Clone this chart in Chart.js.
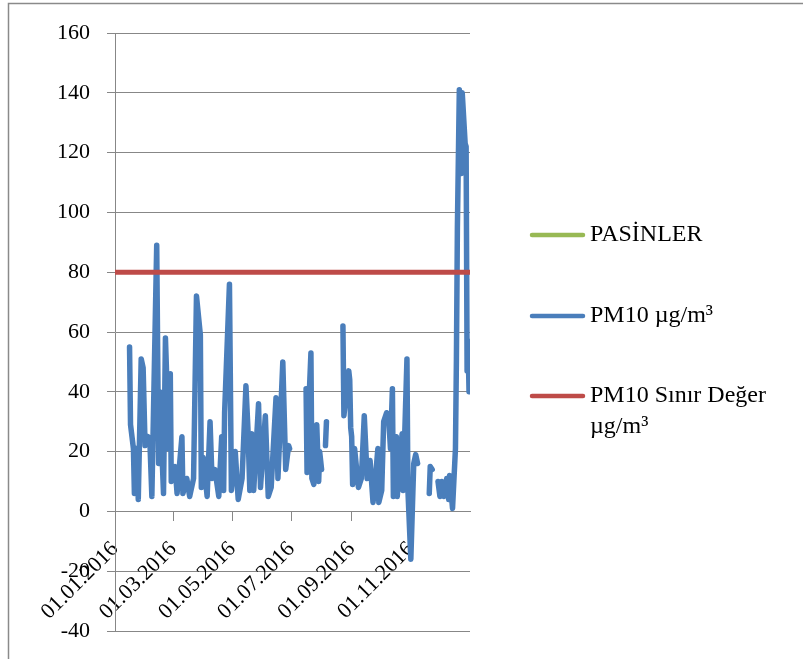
<!DOCTYPE html>
<html>
<head>
<meta charset="utf-8">
<script src="https://cdn.jsdelivr.net/npm/chart.js@4"></script>
<style>
html,body{margin:0;padding:0;background:#ffffff;}
#wrap{width:803px;height:659px;position:relative;}
</style>
</head>
<body>
<div id="wrap"><canvas id="c" width="803" height="659"></canvas></div>
<script>
// ---- data ----
const seriesNames = ['PASİNLER', 'PM10 µg/m³', 'PM10 Sınır Değer µg/m³'];
const tickDays = [0, 60, 121, 182, 244, 305];
const tickLabels = ['01.01.2016', '01.03.2016', '01.05.2016', '01.07.2016', '01.09.2016', '01.11.2016'];
const daysInYear = 366;
const limitValue = 80;
// day of year (0 = 01.01.2016); null values mark missing measurements
const days = [
  15,16,19,20,22,24,27,29,31,34,36,38,43,45,46,48,50,52,53,55,57,58,62,64,69,70,74,77,81,84,88,89,91,
  95,98,100,103,107,110,112,113,118,120,124,127,131,135,137,139,141,143,148,150,155,158,161,166,168,173,176,179,180,
  188,
  197,198,199,202,203,205,208,210,211,213,
  215,
  217,218,
  225,
  235,236,241,242,243,244,245,247,251,254,257,260,263,266,268,271,272,275,277,280,282,284,286,287,290,291,296,297,301,302,305,308,310,312,
  318,
  324,325,327,
  330,
  333,335,337,339,342,344,345,348,351,352,353,355,357,358,361,362,363,364,365
];
const pm10 = [
  55,29,21,6,21,4,51,48,22,25,23,5,89,16,40,23,6,58,48,21,46,10,15,6,25,6,11,5,11,72,59,8,18,
  5,30,11,14,5,25,7,33,76,7,20,4,11,42,28,7,26,7,36,8,32,5,8,38,11,50,14,22,21,
  null,
  41,13,29,53,11,9,29,10,20,14,
  null,
  22,30,
  null,
  62,32,47,44,28,25,9,21,8,11,32,11,17,3,9,21,3,7,30,33,32,21,41,5,25,5,26,7,51,7,-16,16,19,16,
  null,
  6,15,14,
  null,
  10,5,10,5,11,4,12,1,21,51,95,141,113,140,123,122,47,57,40
];
const yMin = -40, yMax = 160, yStep = 20;

// ---- styles ----
const gridColor = '#878787';
const colors = ['#98B954', '#4A7EBB', '#BE4B48'];
const tickFont = { family: '"Liberation Serif", "Times New Roman", serif', size: 22 };
const legendFontPx = 24;

const framePlugin = {
  id: 'frame',
  afterDraw(chart) {
    const ctx = chart.ctx;
    ctx.save();
    ctx.strokeStyle = '#8a8a8a';
    ctx.lineWidth = 1.5;
    ctx.beginPath();
    ctx.moveTo(8.5, 659);
    ctx.lineTo(8.5, 3.5);
    ctx.lineTo(803, 3.5);
    ctx.stroke();
    ctx.restore();
  }
};

const legendPlugin = {
  id: 'customLegend',
  afterDraw(chart) {
    const ctx = chart.ctx;
    const x0 = 532, x1 = 583, textX = 590, maxW = 205;
    const ys = [235, 316, 396];
    const lineH = 31;
    ctx.save();
    ctx.font = legendFontPx + 'px "Liberation Serif", "Times New Roman", serif';
    ctx.textBaseline = 'middle';
    ctx.fillStyle = '#000';
    chart.data.datasets.forEach((ds, i) => {
      const y = ys[i];
      ctx.strokeStyle = ds.borderColor;
      ctx.lineWidth = 4.5;
      ctx.lineCap = 'round';
      ctx.beginPath();
      ctx.moveTo(x0, y);
      ctx.lineTo(x1, y);
      ctx.stroke();
      const words = ds.label.split(' ');
      const lines = [];
      let cur = '';
      words.forEach(w => {
        const t = cur ? cur + ' ' + w : w;
        if (ctx.measureText(t).width > maxW && cur) { lines.push(cur); cur = w; }
        else cur = t;
      });
      if (cur) lines.push(cur);
      lines.forEach((ln, k) => ctx.fillText(ln, textX, y + k * lineH));
    });
    ctx.restore();
  }
};

new Chart(document.getElementById('c'), {
  type: 'line',
  data: {
    datasets: [
      { label: seriesNames[0], data: [], borderColor: colors[0], backgroundColor: colors[0], order: 3 },
      {
        label: seriesNames[1],
        data: days.map((d, i) => ({ x: d, y: pm10[i] })),
        borderColor: colors[1], backgroundColor: colors[1],
        borderWidth: 5.5, pointRadius: 0, tension: 0, spanGaps: false,
        borderCapStyle: 'round', borderJoinStyle: 'round', order: 2
      },
      {
        label: seriesNames[2],
        data: [{ x: 0, y: limitValue }, { x: daysInYear, y: limitValue }],
        borderColor: colors[2], backgroundColor: colors[2],
        borderWidth: 5, pointRadius: 0, borderCapStyle: 'round', order: 1
      }
    ]
  },
  options: {
    responsive: false,
    animation: false,
    devicePixelRatio: 1,
    layout: { padding: { left: 0, top: 33, right: 333, bottom: 28 } },
    plugins: { legend: { display: false }, tooltip: { enabled: false } },
    scales: {
      x: {
        type: 'linear',
        position: { y: 0 },
        min: 0, max: daysInYear,
        afterBuildTicks: (scale) => { scale.ticks = tickDays.map(v => ({ value: v })); },
        afterFit: (scale) => { scale.paddingLeft = 0; scale.paddingRight = 0; },
        ticks: {
          autoSkip: false, minRotation: 45, maxRotation: 45,
          color: '#000', font: tickFont, padding: 16,
          callback: (v) => tickLabels[tickDays.indexOf(v)]
        },
        grid: { drawOnChartArea: false, drawTicks: true, tickLength: 9, color: gridColor },
        border: { display: true, color: gridColor, width: 1 }
      },
      y: {
        min: yMin, max: yMax,
        afterFit: (scale) => { scale.width = 115; scale.paddingTop = 0; scale.paddingBottom = 0; },
        ticks: { stepSize: yStep, color: '#000', font: tickFont, padding: 17 },
        grid: { color: gridColor, tickLength: 8, lineWidth: 1 },
        border: { display: true, color: gridColor, width: 1 }
      }
    }
  },
  plugins: [framePlugin, legendPlugin]
});
</script>
</body>
</html>
